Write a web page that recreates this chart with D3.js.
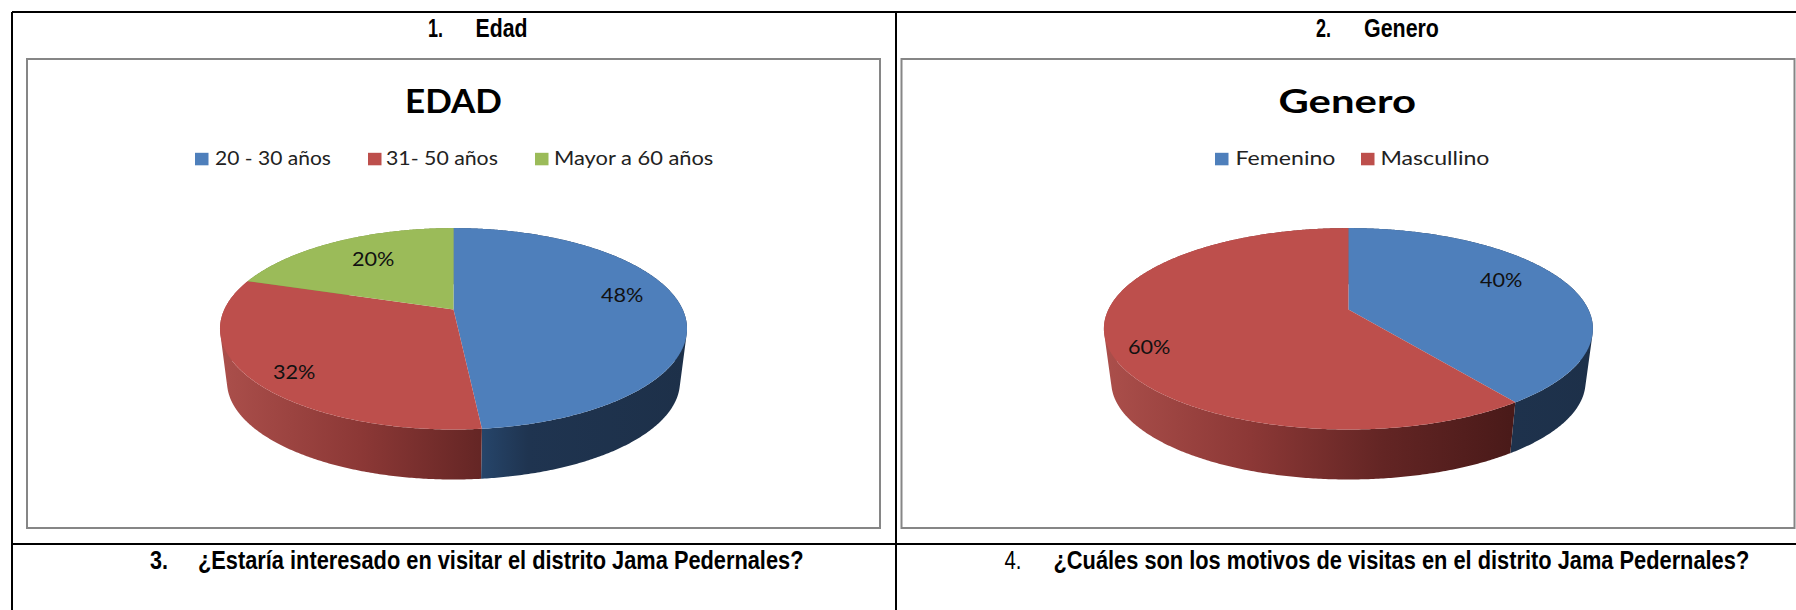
<!DOCTYPE html>
<html>
<head>
<meta charset="utf-8">
<script src="https://cdnjs.cloudflare.com/ajax/libs/d3/7.8.5/d3.min.js"></script>
<style>
html, body { margin: 0; padding: 0; background: #fff; overflow: hidden; }
svg { display: block; }
</style>
</head>
<body>
<script>
// values
const edadCategories = ["20 - 30 años", "31- 50 años", "Mayor a 60 años"];
const edadValues = [48.4, 31.6, 20];
const generoCategories = ["Femenino", "Mascullino"];
const generoValues = [40, 60];
const sliceColors = ["#4e7fbb", "#bd4f4c", "#9bbb59"];

const width = 1796, height = 610;

const svg = d3.select("body").append("svg")
    .attr("width", width)
    .attr("height", height);

const defs = svg.append("defs");

// shading of the pie wall, offset = share of the pie width
const wallStops = [
    [[0, "#ab4f4b"], [0.3, "#8c3836"], [0.57, "#632524"], [0.83, "#4a1a19"], [1, "#4a1a19"]],
    [[0, "#1d3049"], [0.56, "#26456a"], [0.66, "#1f3450"], [1, "#1d3049"]],
    [[0, "#76903f"], [1, "#76903f"]]
];
const wallIndex = [1, 0, 2];

// the reference is a stretched screenshot, so squeeze each text to its measured width
function text(g, str, x, y, size, family, weight, len, color) {
    const t = g.append("text")
        .attr("font-family", family)
        .attr("font-size", size)
        .attr("font-weight", weight)
        .attr("fill", color || "#000")
        .text(str);
    const sx = len / t.node().getComputedTextLength();
    t.attr("transform", "translate(" + x + "," + y + ") scale(" + sx + ",1)");
}

// tilted pie: a circle seen in perspective
function drawPie(g, id, values, cx, halfWidth, labelSpots) {
    const hubY = 309.5, k = 0.1916, B = 97, depth = 53.6, shrink = 0.97;
    const A = halfWidth * Math.sqrt(1 - k * k);

    const rim = angle => {
        const u = Math.sin(angle), v = -Math.cos(angle), w = 1 - k * v;
        return [A * u / w, B * v / w];
    };
    const top = angle => {
        const p = rim(angle);
        return [cx + p[0], hubY + p[1]];
    };
    const bottom = angle => {
        const p = rim(angle);
        return [cx + p[0] * shrink, hubY + depth + p[1] * shrink];
    };

    const arcs = d3.pie().sort(null).value(d => d)(values);

    wallStops.forEach((stops, i) => {
        const grad = defs.append("linearGradient")
            .attr("id", "wall-" + id + "-" + i)
            .attr("gradientUnits", "userSpaceOnUse")
            .attr("x1", cx - halfWidth).attr("x2", cx + halfWidth)
            .attr("y1", 0).attr("y2", 0);
        stops.forEach(s => grad.append("stop").attr("offset", s[0]).attr("stop-color", s[1]));
    });

    const line = d3.line();
    const step = Math.PI / 360;

    // wall: one path per slice, every quad turned the same way so none cancel
    g.append("g").selectAll("path")
        .data(arcs)
        .join("path")
        .attr("d", d => d3.range(d.startAngle, d.endAngle - 1e-6, step)
            .map(a => {
                const b = Math.min(a + step, d.endAngle);
                const quad = [top(a), top(b), bottom(b), bottom(a)];
                if (d3.polygonArea(quad) < 0) quad.reverse();
                return line(quad) + "Z";
            }).join(""))
        .attr("fill", d => "url(#wall-" + id + "-" + wallIndex[d.index] + ")");

    // top face
    g.append("g").selectAll("path")
        .data(arcs)
        .join("path")
        .attr("d", d => {
            const pts = d3.range(d.startAngle, d.endAngle, step).map(a => top(a));
            pts.push(top(d.endAngle));
            pts.push([cx, hubY]);
            return line(pts) + "Z";
        })
        .attr("fill", d => sliceColors[d.index]);

    arcs.forEach((d, i) => {
        text(g, d3.format(".0f")(d.value) + "%", labelSpots[i][0] - 21, labelSpots[i][1] + 7,
            20, "Lato", 400, 42.5, "#111");
    });
}

function drawLegend(g, items, baseline) {
    items.forEach(it => {
        g.append("rect")
            .attr("x", it.box).attr("y", baseline - 12.5)
            .attr("width", 13.5).attr("height", 12.5)
            .attr("fill", it.color);
        text(g, it.label, it.x, baseline, 20, "Lato", 400, it.len, "#222");
    });
}

function frame(g, x1, x2) {
    g.append("rect")
        .attr("x", x1).attr("y", 59)
        .attr("width", x2 - x1).attr("height", 469)
        .attr("fill", "#fff")
        .attr("stroke", "#868686")
        .attr("stroke-width", 2);
}

// table lines
const tableLines = [
    [12, 12, width, 12],
    [12, 544, width, 544],
    [12, 12, 12, height],
    [896, 12, 896, height]
];
svg.append("g").selectAll("line")
    .data(tableLines)
    .join("line")
    .attr("x1", d => d[0]).attr("y1", d => d[1])
    .attr("x2", d => d[2]).attr("y2", d => d[3])
    .attr("stroke", "#000")
    .attr("stroke-width", 2);

const cellFont = "'Liberation Sans'";
const head = svg.append("g");
text(head, "1.", 428, 37, 25, cellFont, 700, 15);
text(head, "Edad", 475.5, 37, 25, cellFont, 700, 52);
text(head, "2.", 1316, 37, 25, cellFont, 700, 15);
text(head, "Genero", 1364, 37, 25, cellFont, 700, 75);
text(head, "3.", 150, 568.5, 25, cellFont, 700, 18);
text(head, "¿Estaría interesado en visitar el distrito Jama Pedernales?", 198, 568.5, 25, cellFont, 700, 606);
text(head, "4.", 1004.5, 568.5, 25, cellFont, 400, 17);
text(head, "¿Cuáles son los motivos de visitas en el distrito Jama Pedernales?", 1053.5, 568.5, 25, cellFont, 700, 696);

// chart 1
const left = svg.append("g");
frame(left, 27, 880);
text(left, "EDAD", 405, 112.8, 33, "Lato", 700, 97);
drawLegend(left, [
    { box: 195, x: 215, len: 116, label: edadCategories[0], color: sliceColors[0] },
    { box: 368, x: 386, len: 112, label: edadCategories[1], color: sliceColors[1] },
    { box: 535, x: 554, len: 159.5, label: edadCategories[2], color: sliceColors[2] }
], 165.3);
drawPie(left, "edad", edadValues, 453.5, 233.5, [[622, 295], [294, 371.5], [373, 259]]);

// chart 2
const right = svg.append("g");
frame(right, 901.5, 1794.5);
text(right, "Genero", 1278.5, 112.8, 33, "Lato", 700, 137.5);
drawLegend(right, [
    { box: 1215, x: 1235.5, len: 100, label: generoCategories[0], color: sliceColors[0] },
    { box: 1361, x: 1380.5, len: 109, label: generoCategories[1], color: sliceColors[1] }
], 165.3);
drawPie(right, "genero", generoValues, 1348.4, 244.5, [[1501, 280], [1149, 347]]);
</script>
</body>
</html>
